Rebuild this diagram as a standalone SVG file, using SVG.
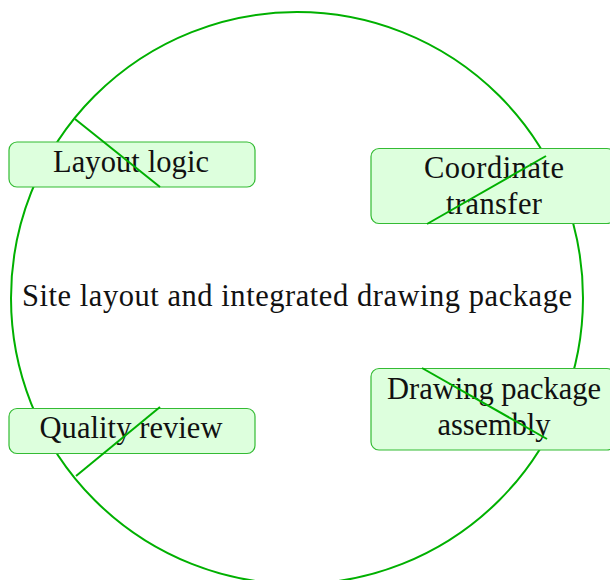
<svg xmlns="http://www.w3.org/2000/svg" width="610" height="580" viewBox="0 0 610 580">
<style>
.box{fill:#ddffdd;stroke:#33bb33;stroke-width:1.2}
.t{font-family:"Liberation Serif","Times New Roman",serif;font-size:30.5px;fill:#111;text-anchor:middle}
.c{stroke:#00b000;stroke-width:2;fill:none}
</style>
<rect width="610" height="580" fill="#fff"/>
<g id="center">
<circle class="c" cx="297" cy="298" r="286"/>
<text class="t" x="297" y="306" textLength="550" lengthAdjust="spacing">Site layout and integrated drawing package</text>
</g>
<g id="layout-logic">
<rect class="box" x="9" y="142" width="246" height="45" rx="8"/>
<text class="t" x="131" y="172" textLength="156" lengthAdjust="spacing">Layout logic</text>
</g>
<g id="coordinate-transfer">
<rect class="box" x="371" y="148.5" width="244" height="75" rx="8"/>
<text class="t" x="494" y="178" textLength="140" lengthAdjust="spacing">Coordinate</text>
<text class="t" x="494" y="214" textLength="96" lengthAdjust="spacing">transfer</text>
</g>
<g id="quality-review">
<rect class="box" x="9" y="408.5" width="246" height="45" rx="8"/>
<text class="t" x="131" y="438" textLength="183" lengthAdjust="spacing">Quality review</text>
</g>
<g id="drawing-package-assembly">
<rect class="box" x="371" y="368.5" width="244" height="81.5" rx="8"/>
<text class="t" x="494" y="399" textLength="214" lengthAdjust="spacing">Drawing package</text>
<text class="t" x="494" y="435" textLength="113" lengthAdjust="spacing">assembly</text>
</g>
<g id="connectors">
<line class="c" x1="75" y1="119" x2="160" y2="187"/>
<line class="c" x1="546" y1="156" x2="427" y2="224"/>
<line class="c" x1="160" y1="407" x2="76" y2="476"/>
<line class="c" x1="422" y1="368" x2="547" y2="439"/>
</g>
</svg>
